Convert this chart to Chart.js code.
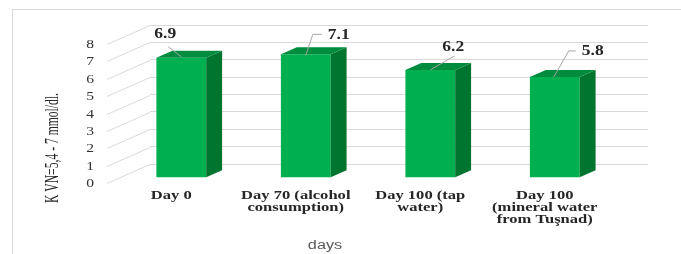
<!DOCTYPE html>
<html><head><meta charset="utf-8">
<script src="https://cdn.jsdelivr.net/npm/chart.js@4/dist/chart.umd.min.js"></script>
<style>html,body{margin:0;padding:0;background:#fff;}canvas{display:block;}</style>
</head><body>
<canvas id="c" width="681" height="254"></canvas>
<script>
// ---- data ----
const categories = [["Day 0"], ["Day 70 (alcohol", "consumption)"], ["Day 100 (tap", "water)"], ["Day 100", "(mineral water", "from Tuşnad)"]];
const values = [6.9, 7.1, 6.2, 5.8];
const valueLabels = ["6.9", "7.1", "6.2", "5.8"];
const yTicks = [0, 1, 2, 3, 4, 5, 6, 7, 8];
const yTitle = "K VN=5,4 - 7 mmol/dl.";
const xTitle = "days";

// ---- styling / layout (not data) ----
const FRONT_COLOR = "#00B050", SIDE_COLOR = "#007530", TOP_COLOR = "#008C3E";
const GRID_COLOR = "#d9d9d9";
const DEPTH = {dx: -43, dy: 19};      // back wall -> front edge of floor
const BAR_FRONT = 0.72, BAR_BACK = 0.35;
const fx = DEPTH.dx * BAR_FRONT, fy = DEPTH.dy * BAR_FRONT;
const sideDx = -DEPTH.dx * (BAR_FRONT - BAR_BACK), sideDy = -DEPTH.dy * (BAR_FRONT - BAR_BACK);
const labelOffsets = [[-16, -23], [33, -19], [23, -23], [38, -26]];
const leaders = [
  [[-13, -11], [0, -1]],
  [[16, -20], [7, -20], [0, 1]],
  [[24, -14], [0, 0]],
  [[21, -26], [14, -26], [-1, 0]]
];
const SERIF = "'Liberation Serif','Times New Roman',serif";

function txt(ctx, s, x, y, font, color, align, sx, sy) {
  ctx.save();
  ctx.font = font; ctx.fillStyle = color; ctx.textBaseline = 'middle'; ctx.textAlign = align;
  ctx.translate(x, y); ctx.scale(sx || 1, sy || 1); ctx.fillText(s, 0, 0);
  ctx.restore();
}

const plugin3d = {
  id: 'fake3d',
  beforeDraw(chart) {
    const ctx = chart.ctx;
    ctx.save();
    ctx.fillStyle = '#fff'; ctx.fillRect(0, 0, chart.width, chart.height);
    ctx.strokeStyle = GRID_COLOR; ctx.lineWidth = 1;
    ctx.strokeRect(12.5, 9.5, 800, 400);
    ctx.restore();
  },
  beforeDatasetsDraw(chart) {
    const ctx = chart.ctx, ys = chart.scales.y, ca = chart.chartArea;
    ctx.save();
    ctx.strokeStyle = GRID_COLOR; ctx.lineWidth = 1;
    yTicks.forEach(v => {
      const y = Math.round(ys.getPixelForValue(v)) + 0.5;
      ctx.beginPath();
      ctx.moveTo(ca.left + DEPTH.dx, y + DEPTH.dy);
      ctx.lineTo(ca.left, y);
      ctx.stroke();
      txt(ctx, String(v), ca.left + DEPTH.dx - 13, y + DEPTH.dy, "12px " + SERIF, "#333333", 'right', 1.3, 1);
    });
    ctx.restore();
    ctx.save();
    ctx.translate(fx, fy);
  },
  afterDatasetsDraw(chart) {
    const ctx = chart.ctx;
    ctx.restore();
    const meta = chart.getDatasetMeta(0);
    ctx.save();
    meta.data.forEach(el => {
      const p = el.getProps(['x', 'y', 'base', 'width'], true);
      const xl = p.x - p.width / 2 + fx, xr = p.x + p.width / 2 + fx;
      const top = p.y + fy, bot = p.base + fy;
      ctx.fillStyle = SIDE_COLOR;
      ctx.beginPath();
      ctx.moveTo(xr, top); ctx.lineTo(xr + sideDx, top + sideDy);
      ctx.lineTo(xr + sideDx, bot + sideDy); ctx.lineTo(xr, bot); ctx.closePath(); ctx.fill();
      ctx.fillStyle = TOP_COLOR;
      ctx.beginPath();
      ctx.moveTo(xl, top); ctx.lineTo(xl + sideDx, top + sideDy);
      ctx.lineTo(xr + sideDx, top + sideDy); ctx.lineTo(xr, top); ctx.closePath(); ctx.fill();
    });
    ctx.restore();
  },
  afterDraw(chart) {
    const ctx = chart.ctx, ca = chart.chartArea, xs = chart.scales.x;
    const meta = chart.getDatasetMeta(0);
    // value labels with leader lines
    meta.data.forEach((el, i) => {
      const p = el.getProps(['x', 'y'], true);
      const cx = p.x + fx, cy = p.y + fy;
      ctx.save();
      ctx.strokeStyle = "#a6a6a6"; ctx.lineWidth = 1;
      ctx.beginPath();
      leaders[i].forEach((pt, k) => {
        if (k === 0) ctx.moveTo(cx + pt[0], cy + pt[1]); else ctx.lineTo(cx + pt[0], cy + pt[1]);
      });
      ctx.stroke();
      ctx.restore();
      txt(ctx, valueLabels[i], cx + labelOffsets[i][0], cy + labelOffsets[i][1], "bold 14px " + SERIF, "#262626", 'center', 1.25, 1);
    });
    // category labels along the front edge
    categories.forEach((lines, i) => {
      const x = xs.getPixelForValue(i) + DEPTH.dx + 2;
      lines.forEach((ln, k) => {
        txt(ctx, ln, x, ca.bottom + DEPTH.dy + 13 + k * 12, "bold 12px " + SERIF, "#262626", 'center', 1.38, 1);
      });
    });
    // y title (rotated, compressed)
    ctx.save();
    ctx.font = "14px " + SERIF;
    const w = ctx.measureText(yTitle).width;
    ctx.translate(53, 148);
    ctx.rotate(-Math.PI / 2);
    ctx.scale(110 / w, 1.3);
    ctx.fillStyle = "#262626"; ctx.textAlign = 'center'; ctx.textBaseline = 'middle';
    ctx.fillText(yTitle, 0, 0);
    ctx.restore();
    // x title
    txt(ctx, xTitle, 325, 246, "12.5px 'Liberation Sans',Arial,sans-serif", "#595959", 'center', 1.3, 1);
  }
};

new Chart(document.getElementById('c'), {
  type: 'bar',
  data: {
    labels: categories,
    datasets: [{
      data: values,
      backgroundColor: FRONT_COLOR,
      borderWidth: 0,
      categoryPercentage: 0.8,
      barPercentage: 0.5,
      clip: false
    }]
  },
  options: {
    responsive: false,
    animation: false,
    devicePixelRatio: 1,
    layout: {padding: {left: 0, top: 25, right: 33, bottom: 0}},
    plugins: {legend: {display: false}, tooltip: {enabled: false}},
    scales: {
      x: {
        grid: {display: false},
        border: {display: false},
        ticks: {display: false},
        afterFit(s) { s.height = 90; }
      },
      y: {
        min: 0, max: 8,
        ticks: {display: false, stepSize: 1},
        grid: {color: GRID_COLOR, lineWidth: 1, drawTicks: false},
        border: {display: false},
        afterFit(s) { s.width = 150; }
      }
    }
  },
  plugins: [plugin3d]
});
</script>
</body></html>
